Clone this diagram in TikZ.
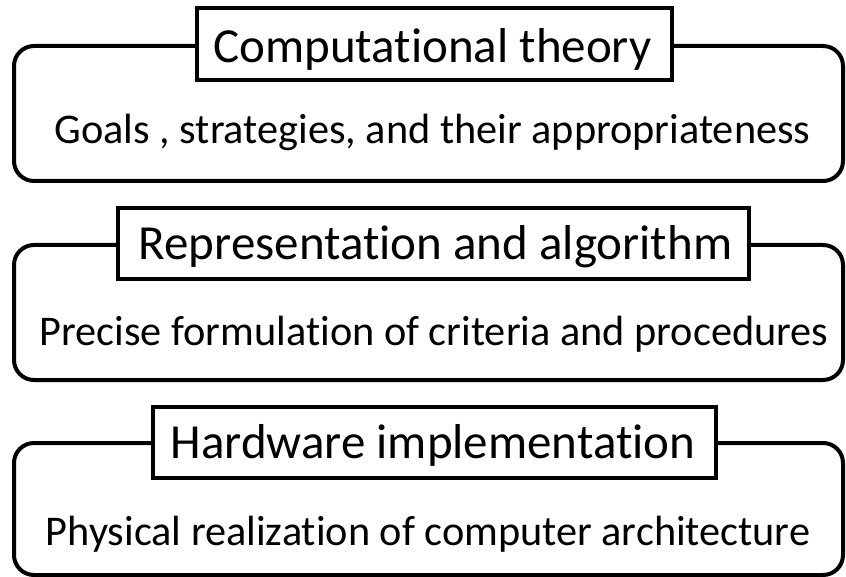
\documentclass[tikz,border=0pt]{standalone}
\usepackage{fontspec}
\setmainfont{Carlito}[Ligatures=NoCommon]
\begin{document}
\begin{tikzpicture}[x=1pt,y=-1pt,
  panel/.style={draw=black, line width=4pt, rounded corners=20pt},
  titlebox/.style={draw=black, line width=4pt, fill=white, inner sep=0pt, outer sep=0pt},
  titletext/.style={anchor=base, inner sep=0pt, font=\fontsize{49}{54}\selectfont},
  bodytext/.style={anchor=base, inner sep=0pt, font=\fontsize{42.3}{48}\selectfont}]
\useasboundingbox (0,0) rectangle (846,577);
% the three levels of analysis
\draw[panel] (14,46) rectangle (843,181);
\draw[panel] (14,245) rectangle (843,380);
\draw[panel] (14,443) rectangle (843,575);
% title boxes sitting on the top edges
\node[titlebox, minimum width=475pt, minimum height=72pt] (t1) at (434.5,44) {};
\node[titlebox, minimum width=631pt, minimum height=71pt] (t2) at (433.5,243.5) {};
\node[titlebox, minimum width=563pt, minimum height=71pt] (t3) at (434.5,442.5) {};
\node[titletext] (l1) at (432.5,63) {Computational theory};
\node[titletext] (l2) at (435.5,260) {Representation and algorithm};
\node[titletext] (l3) at (433,458) {Hardware implementation};
% descriptions
\node[bodytext] (b1) at (432.5,144) {Goals , strategies, and their appropriateness};
\node[bodytext] (b2) at (434,345) {Precise formulation of criteria and procedures};
\node[bodytext] (b3) at (428,545) {Physical realization of computer architecture};
\end{tikzpicture}
\end{document}
